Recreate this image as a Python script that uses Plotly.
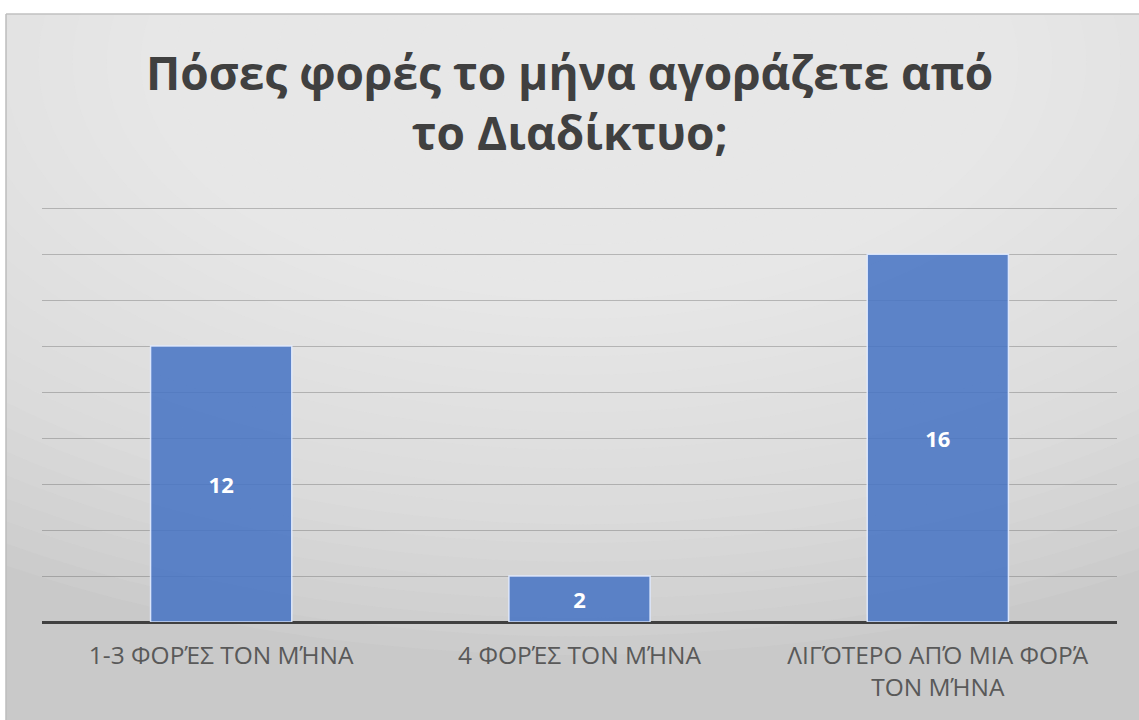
import plotly.graph_objects as go

categories = ["1-3 ΦΟΡΈΣ ΤΟΝ ΜΉΝΑ", "4 ΦΟΡΈΣ ΤΟΝ ΜΉΝΑ", "ΛΙΓΌΤΕΡΟ ΑΠΌ ΜΙΑ ΦΟΡΆ<br>ΤΟΝ ΜΉΝΑ"]
values = [12, 2, 16]
title_text = "Πόσες φορές το μήνα αγοράζετε από<br>το Διαδίκτυο;"

W, H = 1139, 720
ML, MR, MT, MB = 42, 22, 207, 98
PW, PH = W - ML - MR, H - MT - MB


def px_x(x):
    return (x - ML) / PW


def px_y(y):
    return (H - MB - y) / PH


fig = go.Figure()
fig.add_trace(go.Bar(
    x=categories, y=values,
    text=[str(v) for v in values],
    textposition="inside", insidetextanchor="middle",
    textfont=dict(family="Open Sans", size=22, color="white", weight="bold"),
    marker=dict(color="rgba(70,115,196,0.86)", line=dict(color="rgba(225,235,255,0.9)", width=1.5)),
    width=0.394,
    hoverinfo="skip",
))

shapes = []
# chart box background
shapes.append(dict(type="rect", xref="paper", yref="paper", x0=px_x(0), x1=px_x(W + 5), y0=px_y(H + 5), y1=px_y(-5),
                   fillcolor="#c9c9c9", line=dict(width=0), layer="below"))
# soft radial gradient approximation
n = 30
for i in range(n):
    f = 1 - i / n
    rx = 0.95 * f + 0.06
    ry = 1.35 * f + 0.08
    cx, cy = 0.5, 1.35
    shapes.append(dict(type="circle", xref="paper", yref="paper",
                       x0=cx - rx, x1=cx + rx, y0=cy - ry, y1=cy + ry,
                       fillcolor="rgba(246,246,246,0.08)", line=dict(width=0), layer="below"))
# white page margin outside the chart box
shapes.append(dict(type="rect", xref="paper", yref="paper", x0=px_x(-5), x1=px_x(6), y0=px_y(H + 5), y1=px_y(-5),
                   fillcolor="white", line=dict(width=0), layer="below"))
shapes.append(dict(type="rect", xref="paper", yref="paper", x0=px_x(-5), x1=px_x(W + 5), y0=px_y(14), y1=px_y(-5),
                   fillcolor="white", line=dict(width=0), layer="below"))
# faint box border
shapes.append(dict(type="line", xref="paper", yref="paper", x0=px_x(6), x1=px_x(W), y0=px_y(14), y1=px_y(14),
                   line=dict(color="#c0c0c0", width=1.5), layer="below"))
shapes.append(dict(type="line", xref="paper", yref="paper", x0=px_x(6), x1=px_x(6), y0=px_y(14), y1=px_y(H),
                   line=dict(color="#bdbdbd", width=1.5), layer="below"))

annotations = [dict(text=title_text, xref="paper", yref="paper", x=px_x(W / 2), y=px_y(102),
                    xanchor="center", yanchor="middle", showarrow=False,
                    font=dict(family="Open Sans", size=46, color="#404040", weight="bold"))]

fig.update_layout(
    width=W, height=H,
    margin=dict(l=ML, r=MR, t=MT, b=MB),
    paper_bgcolor="white",
    plot_bgcolor="rgba(0,0,0,0)",
    showlegend=False,
    bargap=0.606,
    xaxis=dict(showgrid=False, ticks="outside", ticklen=12, tickcolor="rgba(0,0,0,0)",
               tickfont=dict(family="Open Sans", size=24.5, color="#595959"),
               showline=False, fixedrange=True),
    yaxis=dict(range=[0, 18.05], tickvals=[0, 2, 4, 6, 8, 10, 12, 14, 16, 18], showgrid=True,
               gridcolor="rgba(95,95,95,0.36)", gridwidth=1,
               showticklabels=False, zeroline=True, zerolinecolor="#404040", zerolinewidth=3,
               fixedrange=True),
    shapes=shapes,
    annotations=annotations,
)

fig.write_html("out.html")
